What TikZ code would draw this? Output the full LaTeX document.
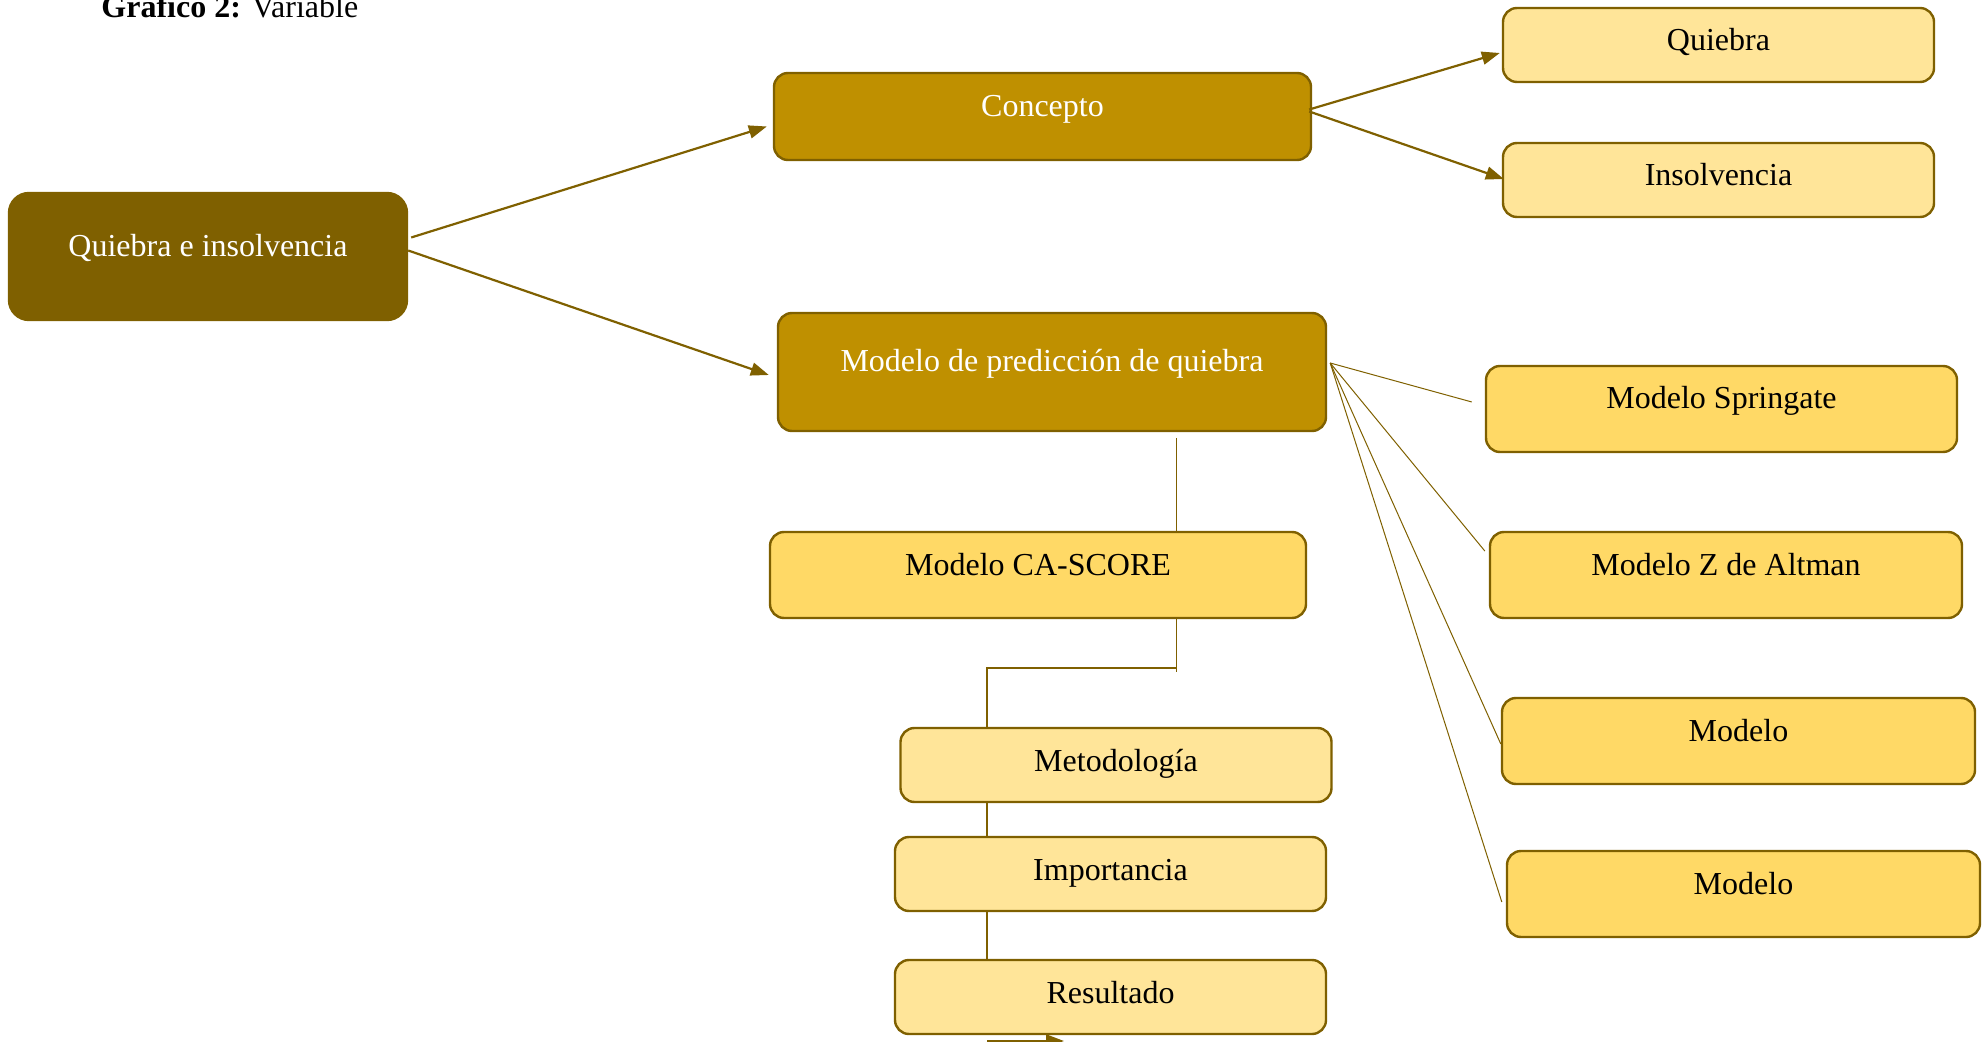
\documentclass[tikz,border=0pt]{standalone}
\usepackage{fontspec}
\setmainfont{Liberation Serif}
\usetikzlibrary{arrows.meta,calc}
\definecolor{darkol}{RGB}{127,96,0}
\definecolor{midgold}{RGB}{191,144,0}
\definecolor{lightgold}{RGB}{255,229,153}
\definecolor{goldfill}{RGB}{255,217,102}
\begin{document}
\begin{tikzpicture}[x=0.5pt,y=-0.5pt,
 box/.style={draw=darkol, line width=1.2pt, rounded corners=7pt, inner sep=0pt, font=\fontsize{16pt}{19pt}\selectfont, align=center},
 bigtext/.style={text height=8pt, text depth=8pt},
 smalltext/.style={text height=11pt, text depth=5pt},
 rootbox/.style={box, fill=darkol, text=white, rounded corners=10pt, bigtext},
 midbox/.style={box, fill=midgold, text=white, bigtext},
 goldbox/.style={box, fill=goldfill, bigtext},
 lightbox/.style={box, fill=lightgold, smalltext},
 arr/.style={draw=darkol, line width=1.1pt, -{Triangle[length=9pt,width=6.5pt]}},
 thinline/.style={draw=darkol, line width=0.5pt},
 link/.style={draw=darkol, line width=1pt}
]
\useasboundingbox (0,0) rectangle (1986,1042);
\clip (0,0) rectangle (1986,1042);

\node[anchor=base west, font=\fontsize{16pt}{19pt}\selectfont, inner sep=0pt] (title) at (101,18) {\textbf{Gráfico 2:} Variable};

\node[rootbox, minimum width=199pt, minimum height=63.5pt] (root) at (208,256.5) {Quiebra e insolvencia};
\node[midbox, minimum width=268.5pt, minimum height=43.5pt] (concepto) at (1042.5,116.5) {Concepto};
\node[lightbox, minimum width=215.5pt, minimum height=37pt] (quiebra) at (1718.5,45) {Quiebra};
\node[lightbox, minimum width=215.5pt, minimum height=37pt] (insol) at (1718.5,180) {Insolvencia};
\node[midbox, minimum width=274pt, minimum height=59pt] (pred) at (1052,372) {Modelo de predicción de quiebra};
\node[goldbox, minimum width=235.5pt, minimum height=43pt] (spring) at (1721.5,409) {Modelo Springate};
\node[goldbox, minimum width=236pt, minimum height=43pt] (altman) at (1726,575) {Modelo Z de Altman};
\node[goldbox, minimum width=236.5pt, minimum height=43pt] (mthree) at (1738.5,741) {Modelo};
\node[goldbox, minimum width=236.5pt, minimum height=43pt] (mfour) at (1743.5,894) {Modelo};
\node[goldbox, minimum width=268pt, minimum height=43pt] (cascore) at (1038,575) {Modelo CA-SCORE};
\node[lightbox, minimum width=215.5pt, minimum height=37pt] (metod) at (1116,765) {Metodología};
\node[lightbox, minimum width=215.5pt, minimum height=37pt] (import) at (1110.5,874) {Importancia};
\node[lightbox, minimum width=215.5pt, minimum height=37pt] (result) at (1110.5,997) {Resultado};

\draw[arr] ($(root.east)+(3,-19)$) -- ($(concepto.west)+(-6,10)$);
\draw[arr] ($(root.east)+(0,-6)$) -- ($(pred.west)+(-8,3)$);
\draw[arr] ($(concepto.east)+(-3,-7)$) -- ($(quiebra.west)+(-2,8)$);
\draw[arr] ($(concepto.east)+(-3,-5)$) -- ($(insol.west)+(2,-1)$);

\coordinate (hub) at ($(pred.east)+(3,-9)$);
\draw[thinline] (hub) -- ($(spring.west)+(-13,-7)$);
\draw[thinline] (hub) -- ($(altman.west)+(-4,-24)$);
\draw[thinline] (hub) -- ($(mthree.west)+(0,3)$);
\draw[thinline] (hub) -- ($(mfour.west)+(-4,8)$);

\coordinate (vtop) at (1176,438);
\draw[thinline] (vtop) -- (vtop |- cascore.north);
\coordinate (elb) at (1176,668);
\coordinate (lx) at (987,668);
\draw[thinline] (cascore.south -| elb) -- ($(elb)+(0,4)$);
\draw[link] (elb) -- (lx) -- (lx |- metod.north);
\draw[link] (lx |- metod.south) -- (lx |- import.north);
\draw[link] (lx |- import.south) -- (lx |- result.north);
\coordinate (btip) at (1064,1041);
\draw[arr] (lx |- btip) -- (btip);
\end{tikzpicture}
\end{document}
